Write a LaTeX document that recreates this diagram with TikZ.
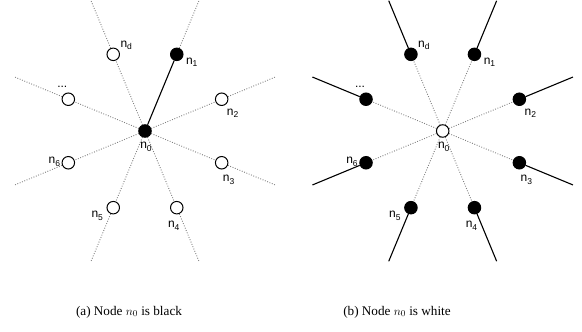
\documentclass[tikz,border=0pt]{standalone}
\usepackage{fontspec}
\setmainfont{Liberation Serif}
\setsansfont{Liberation Sans}
\usetikzlibrary{calc,backgrounds}
\newcommand\lab[1]{\textsf{n\raisebox{-0.45ex}{\fontsize{8.5}{9}\selectfont #1}}}
\begin{document}
\begin{tikzpicture}[x=1pt,y=1pt,
  wnode/.style={circle,draw,fill=white,line width=1pt,minimum size=12.5pt,inner sep=0pt},
  bnode/.style={circle,draw,fill=black,line width=1pt,minimum size=12.5pt,inner sep=0pt},
  dotline/.style={gray,line width=0.9pt,dash pattern=on 0.9pt off 1.6pt},
  solidline/.style={black,line width=1.1pt},
  lbl/.style={font=\fontsize{12}{13}\selectfont\sffamily,inner sep=0pt},
  captext/.style={font=\fontsize{13.2}{15}\selectfont,inner sep=0pt}]
\useasboundingbox (0,0) rectangle (582,332);
% ---------- panel (a) ----------
\coordinate (ca) at (145,201);
\node[bnode,label={[lbl,xshift=1pt,yshift=-16pt]center:\lab{0}}] (a0) at (ca) {};
\foreach \i/\ang/\dx/\dy/\st/\t in {
  1/67.5/15/-8/bnode/{\lab{1}},
  2/22.5/11/-14/wnode/{\lab{2}},
  3/-22.5/7/-17/wnode/{\lab{3}},
  4/-67.5/-3/-18/wnode/{\lab{4}},
  5/-112.5/-16/-8/wnode/{\lab{5}},
  6/-157.5/-14/1/wnode/{\lab{6}},
  7/157.5/-6/12/wnode/{...},
  8/112.5/13/9/wnode/{\lab{d}}}{
  \node[\st,label={[lbl,xshift=\dx pt,yshift=\dy pt]center:\t}] (a\i) at ($(ca)+(\ang:83)$) {};
  \coordinate (ae\i) at ($(ca)+(\ang:141)$);
}
\begin{scope}[on background layer]
  \draw[solidline] (a0) -- (a1);
  \draw[dotline] (a1) -- (ae1);
  \foreach \i in {2,...,8}{
    \draw[dotline] (a0) -- (a\i) -- (ae\i);
  }
\end{scope}
% ---------- panel (b) ----------
\coordinate (cb) at (442.7,201);
\node[wnode,label={[lbl,xshift=1pt,yshift=-16pt]center:\lab{0}}] (b0) at (cb) {};
\foreach \i/\ang/\dx/\dy/\t in {
  1/67.5/15/-8/{\lab{1}},
  2/22.5/11/-14/{\lab{2}},
  3/-22.5/7/-17/{\lab{3}},
  4/-67.5/-3/-18/{\lab{4}},
  5/-112.5/-16/-8/{\lab{5}},
  6/-157.5/-14/1/{\lab{6}},
  7/157.5/-6/12/{...},
  8/112.5/13/9/{\lab{d}}}{
  \node[bnode,label={[lbl,xshift=\dx pt,yshift=\dy pt]center:\t}] (b\i) at ($(cb)+(\ang:83)$) {};
  \coordinate (be\i) at ($(cb)+(\ang:141)$);
}
\begin{scope}[on background layer]
  \foreach \i in {1,...,8}{
    \draw[dotline] (b0) -- (b\i);
    \draw[solidline] (b\i) -- (be\i);
  }
\end{scope}
% ---------- captions ----------
\node[captext] (capa) at (129,20) {(a) Node $n_0$ is black};
\node[captext] (capb) at (397,20) {(b) Node $n_0$ is white};
\end{tikzpicture}
\end{document}
